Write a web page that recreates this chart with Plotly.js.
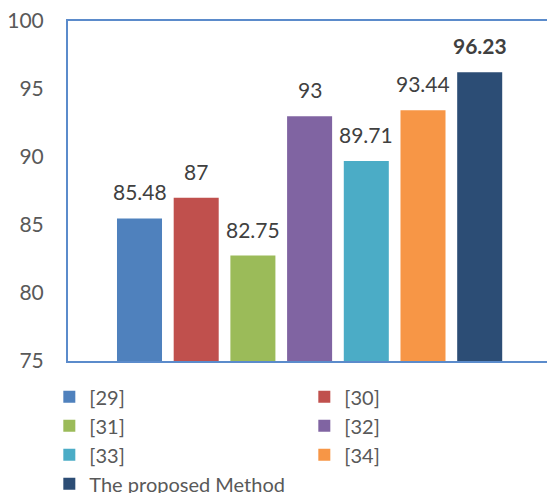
<!DOCTYPE html>
<html><head><meta charset="utf-8">
<script src="https://cdn.plot.ly/plotly-3.0.1.min.js"></script>
<style>html,body{margin:0;padding:0;overflow:hidden;background:#fff}</style>
</head><body><div id="chart" style="width:547px;height:493px"></div>
<script>
const names = ["[29]", "[30]", "[31]", "[32]", "[33]", "[34]", "The proposed Method"];
const values = [85.48, 87, 82.75, 93, 89.71, 93.44, 96.23];
const labels = ["85.48", "87", "82.75", "93", "89.71", "93.44", "<b>96.23</b>"];
const colors = ["#4F81BD", "#C0504D", "#9BBB59", "#8064A2", "#4BACC6", "#F79646", "#2C4D75"];

const FONT = "Lato, 'Open Sans', sans-serif";
const traces = names.map((n, i) => ({
  type: "bar", name: n, x: [n], y: [values[i]],
  marker: {color: colors[i]}, hoverinfo: "skip"
}));
const annotations = names.map((n, i) => ({
  x: n, y: values[i], xref: "x", yref: "y", text: labels[i],
  showarrow: false, yanchor: "bottom", yshift: 12,
  font: {family: FONT, size: 21, color: "#404040"}
}));

const layout = {
  width: 547, height: 493,
  margin: {l: 68, r: 0, t: 21, b: 132, pad: 0, autoexpand: false},
  paper_bgcolor: "#fff", plot_bgcolor: "#fff",
  barmode: "overlay", bargap: 0.206,
  font: {family: FONT, size: 21, color: "#595959"},
  xaxis: {type: "category", range: [-1.261, 7.187], showticklabels: false, ticks: "",
          showgrid: false, zeroline: false, showline: true, mirror: true,
          linecolor: "#5B8BCB", linewidth: 2, fixedrange: true},
  yaxis: {range: [75, 100], dtick: 5, tick0: 75, showgrid: false, zeroline: false,
          showline: true, linecolor: "#5B8BCB", linewidth: 2, ticks: "",
          ticklabelstandoff: 18, fixedrange: true,
          tickfont: {family: FONT, size: 21, color: "#595959"}},
  showlegend: true,
  legend: {orientation: "h", x: -0.039, xanchor: "left", y: -0.048, yanchor: "top",
           entrywidth: 210, entrywidthmode: "pixels", itemwidth: 30,
           font: {family: FONT, size: 20, color: "#595959"}, traceorder: "normal"},
  annotations: annotations
};
Plotly.newPlot("chart", traces, layout, {displayModeBar: false, staticPlot: true});
</script></body></html>
